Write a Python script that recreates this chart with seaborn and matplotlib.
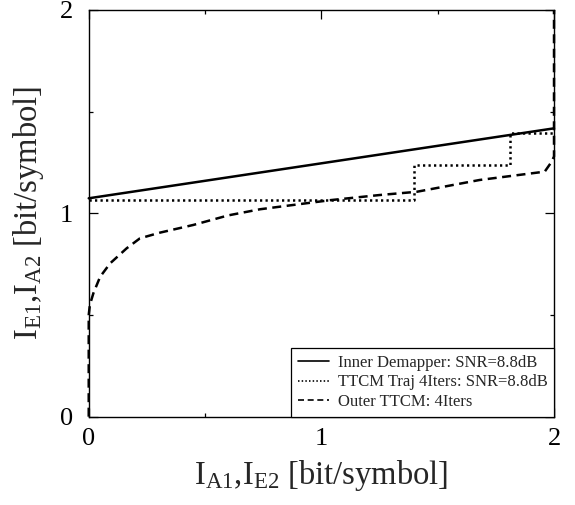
import numpy as np
import pandas as pd
import matplotlib
matplotlib.use("Agg")
import matplotlib.pyplot as plt
import seaborn as sns

# EXIT chart data (mutual information, bit/symbol)
inner_x = [0.0, 2.0]
inner_y = [1.074, 1.418]

traj_x = [0.0, 1.40, 1.40, 1.81, 1.81, 2.0]
traj_y = [1.065, 1.065, 1.237, 1.237, 1.393, 1.393]

outer_x = [0.0, 0.0, 0.005, 0.02, 0.049, 0.092, 0.163, 0.22, 0.306, 0.45,
           0.60, 0.736, 1.04, 1.25, 1.41, 1.68, 1.96, 1.99, 2.0, 2.0]
outer_y = [0.0, 0.50, 0.55, 0.607, 0.688, 0.754, 0.828, 0.877, 0.905, 0.943,
           0.99, 1.02, 1.065, 1.09, 1.106, 1.164, 1.205, 1.254, 1.28, 2.0]

series_labels = ["Inner Demapper: SNR=8.8dB",
                 "TTCM Traj 4Iters: SNR=8.8dB",
                 "Outer TTCM: 4Iters"]

major_ticks = [0, 1, 2]
minor_ticks = [0.5, 1.5]

sns.set_style("ticks")
plt.rcParams["font.family"] = ["Liberation Serif", "DejaVu Serif"]
plt.rcParams["mathtext.fontset"] = "custom"
plt.rcParams["mathtext.rm"] = "Liberation Serif"
plt.rcParams["mathtext.it"] = "Liberation Serif:italic"

fig = plt.figure(figsize=(5.75, 5.05), dpi=100)
ax = fig.add_axes([0.1543, 0.1749, 0.8092, 0.8053])

common = dict(ax=ax, color="black", sort=False, estimator=None, clip_on=False)
sns.lineplot(x=inner_x, y=inner_y, linestyle="-", linewidth=1.8,
             label=series_labels[0], **common)
sns.lineplot(x=traj_x, y=traj_y, linestyle=(0, (0.9, 1.3)), linewidth=1.8,
             label=series_labels[1], **common)
sns.lineplot(x=outer_x, y=outer_y, linestyle=(0, (3.6, 2.2)), linewidth=1.8,
             label=series_labels[2], **common)

ax.set_xlim(0, 2)
ax.set_ylim(0, 2)
ax.set_xticks(major_ticks)
ax.set_yticks(major_ticks)
ax.set_xticks(minor_ticks, minor=True)
ax.set_yticks(minor_ticks, minor=True)
ax.set_xticklabels([str(t) for t in major_ticks])
ax.set_yticklabels([str(t) for t in major_ticks])
ax.tick_params(which="both", direction="in", top=True, right=True,
               colors="black", width=0.9, labelsize=19)
ax.tick_params(which="major", length=6.5)
ax.tick_params(which="minor", length=3)
ax.tick_params(axis="x", which="major", pad=8)
ax.tick_params(axis="y", which="major", pad=11.5)

for sp in ax.spines.values():
    sp.set_visible(True)
    sp.set_linewidth(1.0)
    sp.set_color("black")

ax.set_xlabel(r"$\mathrm{I_{A1}}$,$\mathrm{I_{E2}}$ [bit/symbol]", fontsize=23.5, labelpad=6)
ax.set_ylabel(r"$\mathrm{I_{E1}}$,$\mathrm{I_{A2}}$ [bit/symbol]", fontsize=23.5, labelpad=10)

leg = ax.legend(loc="lower right", fontsize=12.0, frameon=True, fancybox=False,
                borderaxespad=0, handlelength=1.9, handletextpad=0.5,
                labelspacing=0.22, borderpad=0.4)
leg.get_frame().set_edgecolor("black")
leg.get_frame().set_linewidth(0.9)
leg.get_frame().set_alpha(1)
for h in leg.get_lines():
    h.set_linewidth(1.2)

fig.savefig("out.png", dpi=100)
